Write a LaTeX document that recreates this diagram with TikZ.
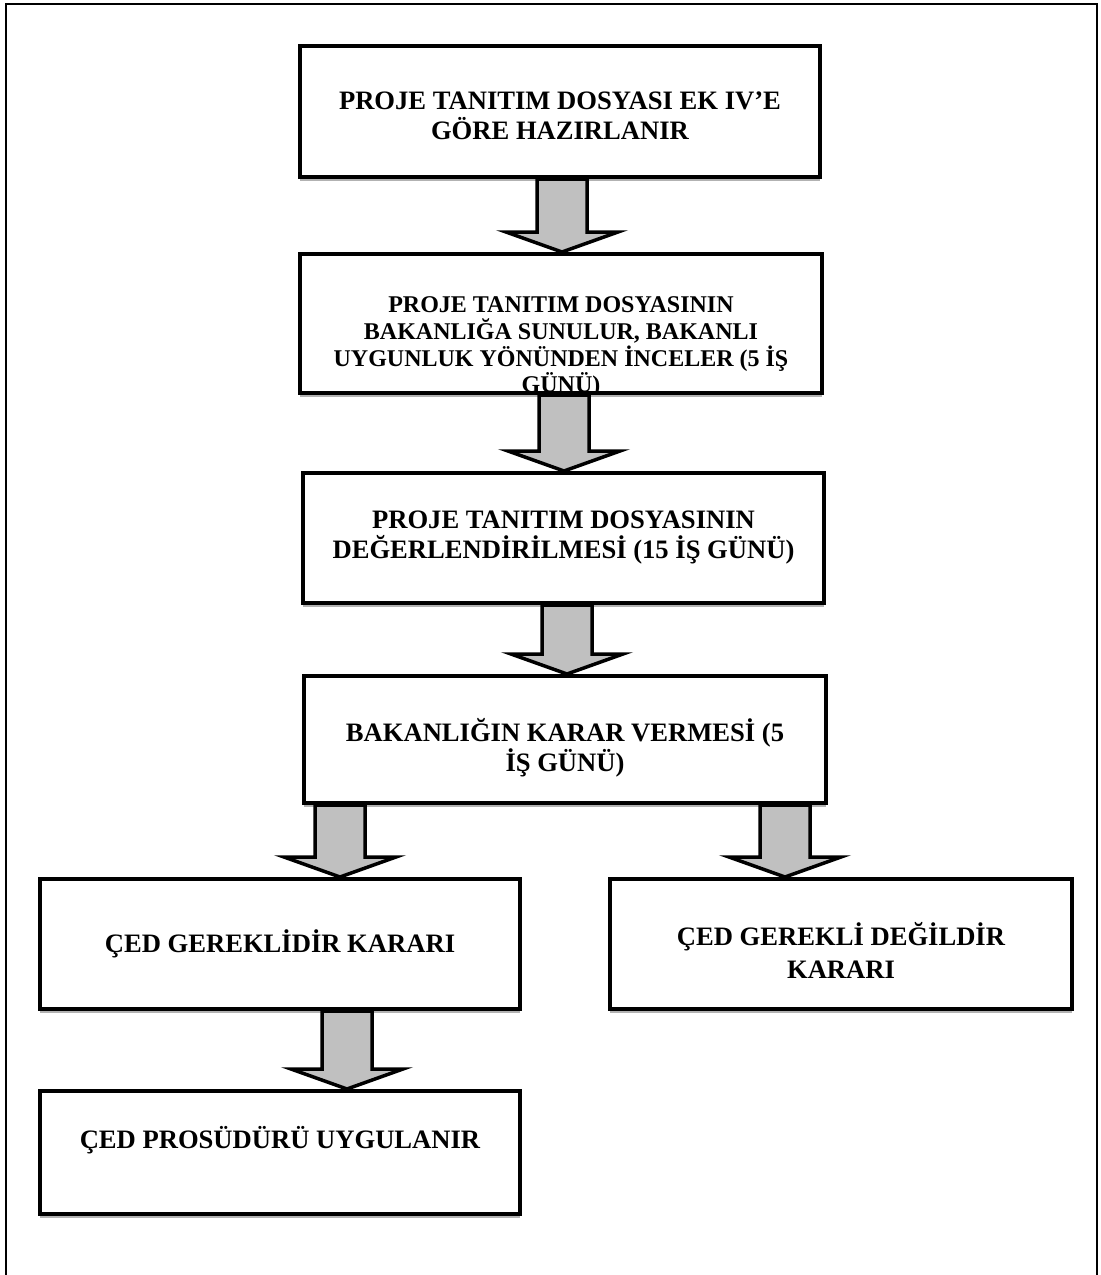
\documentclass[tikz,border=0pt]{standalone}
\usepackage{fontspec}
\setmainfont{Liberation Serif}
\usetikzlibrary{positioning,shadows}
\definecolor{arrowgray}{RGB}{192,192,192}

\newcommand{\blockarrow}[3]{%
  \coordinate (s) at (#3,0 |- #1.south);
  \coordinate (t) at (#3,0 |- #2.north);
  \draw[fatarrow] ([xshift=-12.5pt]s) -- ([xshift=-12.5pt,yshift=10pt]t) -- ([xshift=-28pt,yshift=10pt]t) -- (t)
    -- ([xshift=28pt,yshift=10pt]t) -- ([xshift=12.5pt,yshift=10pt]t) -- ([xshift=12.5pt]s) -- cycle;}

\begin{document}
\begin{tikzpicture}[x=0.5pt, y=-0.5pt, every node/.style={font=\bfseries\fontsize{13.3}{15}\selectfont},
  stepbox/.style={draw, line width=2pt, fill=white, align=center, inner sep=0pt,
    drop shadow={shadow xshift=0pt, shadow yshift=-2pt, fill=gray!60, opacity=1}},
  boxtext/.style 2 args={path picture={\node[align=center] at ([yshift=#1]path picture bounding box.center) {#2};}},
  fatarrow/.style={draw, line width=1.75pt, fill=arrowgray, line join=miter}]
\useasboundingbox (0,0) rectangle (1101,1275);
\draw[line width=1pt] (6,1290) -- (6,4) -- (1097,4) -- (1097,1290);

\node[stepbox, minimum width=260pt, minimum height=65.5pt,
  boxtext={-2pt}{PROJE TANITIM DOSYASI EK IV’E\\GÖRE HAZIRLANIR}] (hazirlik) at (560,111.5) {};
\node[stepbox, minimum width=261pt, minimum height=69.5pt,
  path picture={\node[align=center, font=\bfseries\fontsize{12}{13.3}\selectfont] at ([yshift=-12pt]path picture bounding box.center)
    {PROJE TANITIM DOSYASININ\\BAKANLIĞA SUNULUR, BAKANLI\\UYGUNLUK YÖNÜNDEN İNCELER (5 İŞ\\GÜNÜ)};}] (sunum) at (561,323.5) {};
\node[stepbox, minimum width=260.5pt, minimum height=65pt,
  boxtext={0pt}{PROJE TANITIM DOSYASININ\\DEĞERLENDİRİLMESİ (15 İŞ GÜNÜ)}] (degerlendirme) at (563.5,538) {};
\node[stepbox, minimum width=261pt, minimum height=63.5pt,
  boxtext={-4pt}{BAKANLIĞIN KARAR VERMESİ (5\\İŞ GÜNÜ)}] (karar) at (565,739.5) {};
\node[stepbox, minimum width=240pt, minimum height=65pt,
  boxtext={0pt}{ÇED GEREKLİDİR KARARI}] (gerekli) at (280,944) {};
\node[stepbox, minimum width=231pt, minimum height=65pt,
  boxtext={-3pt}{ÇED GEREKLİ DEĞİLDİR\\[1.5pt]KARARI}] (gereksiz) at (841,944) {};
\node[stepbox, minimum width=240pt, minimum height=61.5pt,
  boxtext={6pt}{ÇED PROSÜDÜRÜ UYGULANIR}] (prosedur) at (280,1152.5) {};

\blockarrow{hazirlik}{sunum}{562}
\blockarrow{sunum}{degerlendirme}{564}
\blockarrow{degerlendirme}{karar}{567}
\blockarrow{karar}{gerekli}{340}
\blockarrow{karar}{gereksiz}{785}
\blockarrow{gerekli}{prosedur}{347}
\end{tikzpicture}
\end{document}
